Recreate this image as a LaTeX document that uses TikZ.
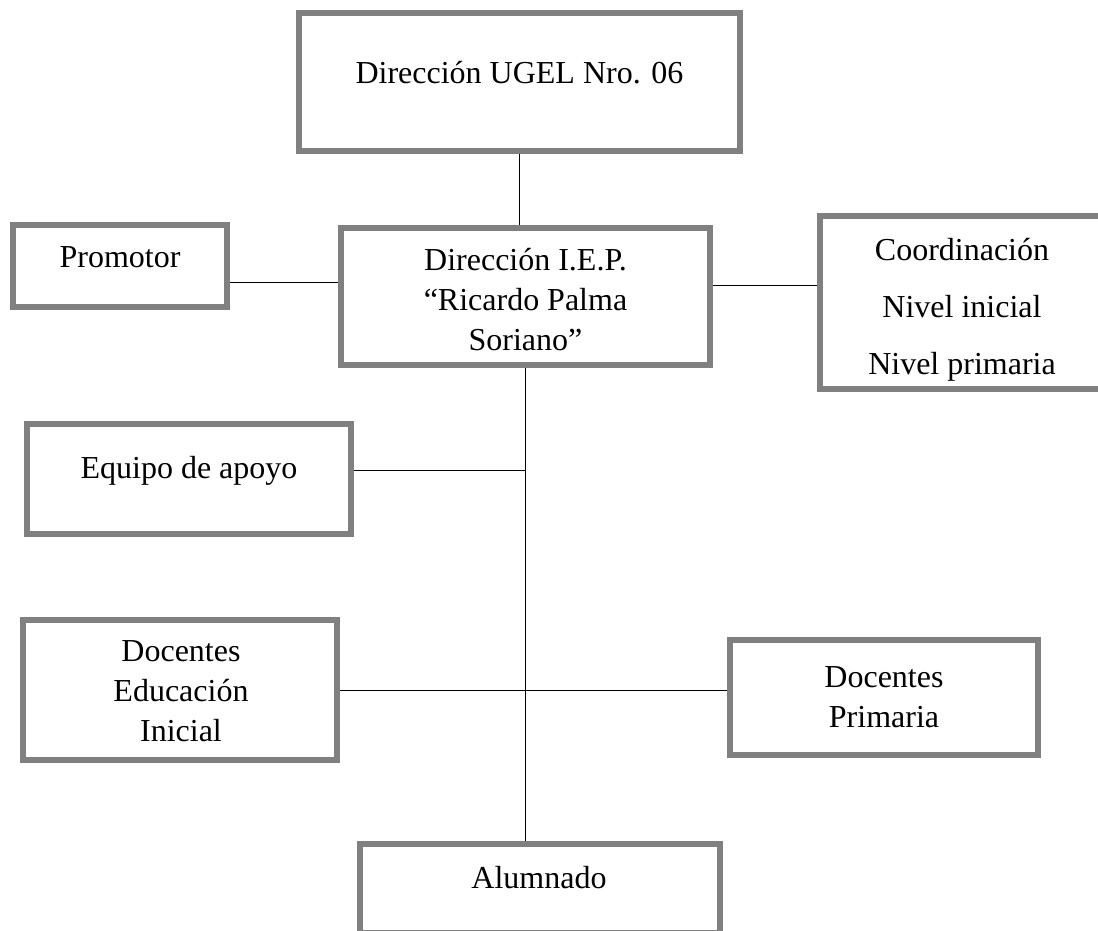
\documentclass[tikz,border=0pt]{standalone}
\usepackage{fontspec}
\setmainfont{Liberation Serif}
\definecolor{bordegris}{HTML}{808080}
\begin{document}
\begin{tikzpicture}[x=0.5pt,y=-0.5pt,
	caja/.style={draw=bordegris,line width=3pt,rectangle,inner sep=0pt},
	texto/.style={anchor=base,align=center,inner sep=0pt,font=\fontsize{16}{20}\selectfont},
	linea/.style={line width=0.5pt}]
			\useasboundingbox (0,0) rectangle (1098,931);
			
			\node[caja,minimum width=220.5pt,minimum height=69pt] (ugel) at (519.5,82) {};
			\node[caja,minimum width=107pt,minimum height=41pt] (promotor) at (120,266) {};
			\node[caja,minimum width=184.5pt,minimum height=68.5pt] (iep) at (525.5,296.5) {};
			\node[caja,minimum width=142pt,minimum height=86.5pt] (coord) at (962,302.5) {};
			\node[caja,minimum width=162pt,minimum height=55pt] (apoyo) at (189,479) {};
			\node[caja,minimum width=157pt,minimum height=70pt] (inicial) at (180,690) {};
			\node[caja,minimum width=154pt,minimum height=57.5pt] (primaria) at (884,697.5) {};
			\node[caja,minimum width=180pt,minimum height=44.5pt] (alumnado) at (540,888.5) {};
			
			\node[texto] (ugel-t) at (519.5,84) {Dirección UGEL Nro. 06};
			\node[texto] (promotor-t) at (120,267) {Promotor};
			\node[texto] (iep-t) at (525.5,350) {Dirección I.E.P.\\“Ricardo Palma\\Soriano”};
			\node[texto,font=\fontsize{16}{28.5}\selectfont] (coord-t) at (962,374) {Coordinación\\Nivel inicial\\Nivel primaria};
			\node[texto] (apoyo-t) at (189,478) {Equipo de apoyo};
			\node[texto] (inicial-t) at (181,741) {Docentes\\Educación\\Inicial};
			\node[texto] (primaria-t) at (884,727) {Docentes\\Primaria};
			\node[texto] (alumnado-t) at (539,888) {Alumnado};
			
			\draw[linea] (ugel.south) -- (ugel.south |- iep.north);
			\draw[linea] ([yshift=-8.25pt]promotor.east) -- ([yshift=7pt]iep.west);
			\draw[linea] ([yshift=5.5pt]iep.east) -- ([yshift=8.5pt]coord.west);
			\draw[linea] (iep.south) -- (iep.south |- alumnado.north);
			\draw[linea] ([yshift=4.25pt]apoyo.east) -- ([yshift=4.25pt]apoyo.east -| iep.south);
			\draw[linea] (inicial.east) -- (inicial.east -| primaria.west);
\end{tikzpicture}
\end{document}
